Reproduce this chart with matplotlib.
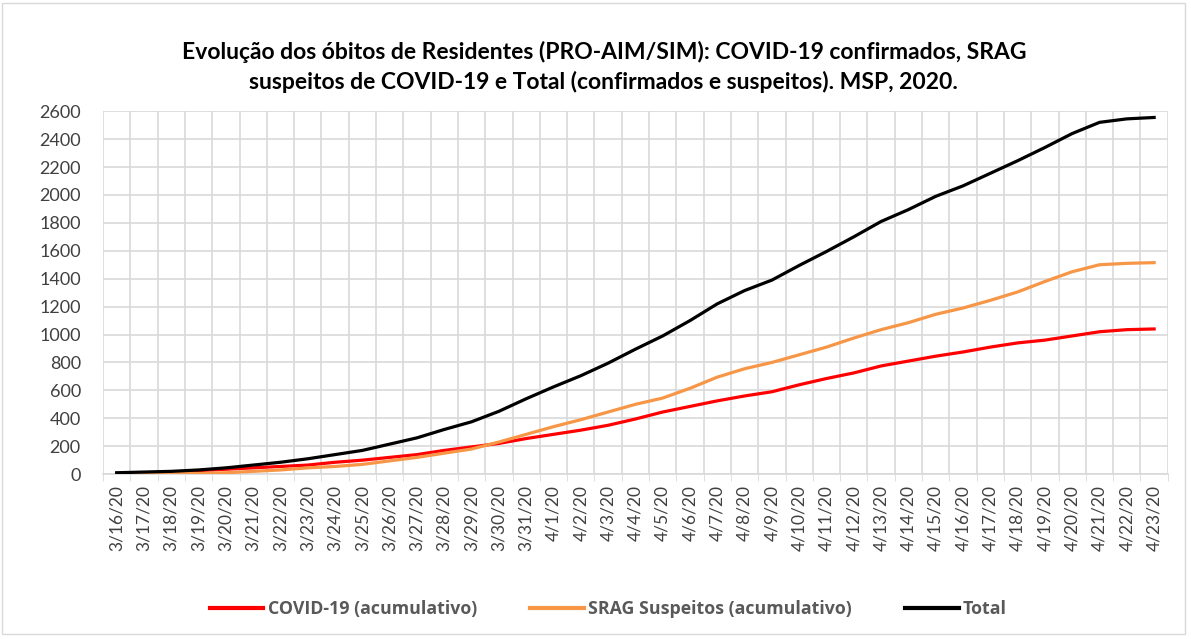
#!/usr/bin/env python3

import matplotlib
matplotlib.use("Agg")
import matplotlib.pyplot as plt
from matplotlib.patches import Rectangle
from matplotlib.font_manager import FontProperties

DATES = [
    "3/16/20", "3/17/20", "3/18/20", "3/19/20", "3/20/20", "3/21/20", "3/22/20",
    "3/23/20", "3/24/20", "3/25/20", "3/26/20", "3/27/20", "3/28/20", "3/29/20",
    "3/30/20", "3/31/20", "4/1/20", "4/2/20", "4/3/20", "4/4/20", "4/5/20",
    "4/6/20", "4/7/20", "4/8/20", "4/9/20", "4/10/20", "4/11/20", "4/12/20",
    "4/13/20", "4/14/20", "4/15/20", "4/16/20", "4/17/20", "4/18/20", "4/19/20",
    "4/20/20", "4/21/20", "4/22/20", "4/23/20",
]

COVID = [
    5, 10, 15, 25, 35, 45, 55, 65, 85, 100, 120, 140, 170, 195, 220, 255,
    285, 315, 350, 395, 445, 485, 525, 560, 590, 640, 685, 725, 775, 810,
    845, 875, 910, 940, 960, 990, 1020, 1035, 1040,
]

SRAG = [
    5, 5, 5, 5, 10, 20, 30, 45, 55, 70, 95, 120, 150, 180, 230, 285,
    340, 390, 445, 500, 545, 615, 695, 755, 800, 855, 910, 975, 1035, 1085,
    1145, 1190, 1245, 1305, 1380, 1450, 1500, 1510, 1515,
]

TOTAL = [
    10, 15, 20, 30, 45, 65, 85, 110, 140, 170, 215, 260, 320, 375, 450, 540,
    625, 705, 795, 895, 990, 1100, 1220, 1315, 1390, 1495, 1595, 1700, 1810, 1895,
    1990, 2065, 2155, 2245, 2340, 2440, 2520, 2545, 2555,
]

Y_TICKS = list(range(0, 2601, 200))

TITLE = ("Evolução dos óbitos de Residentes (PRO-AIM/SIM): COVID-19 confirmados, SRAG\n"
         "suspeitos de COVID-19 e Total (confirmados e suspeitos). MSP, 2020.")

plt.rcParams["font.family"] = ["Lato", "DejaVu Sans"]


def main():
    fig = plt.figure(figsize=(11.91, 6.39), dpi=100)
    ax = fig.add_axes([0.0865, 0.258, 0.894, 0.568])

    x = list(range(len(DATES)))
    ax.plot(x, COVID, color="#FF0000", linewidth=2.3, label="COVID-19 (acumulativo)", zorder=3)
    ax.plot(x, SRAG, color="#F79646", linewidth=2.3, label="SRAG Suspeitos (acumulativo)", zorder=3)
    ax.plot(x, TOTAL, color="#000000", linewidth=2.3, label="Total", zorder=4)

    ax.set_xlim(-0.5, len(DATES) - 0.5)
    ax.set_ylim(0, 2600)
    ax.set_yticks(Y_TICKS)
    ax.set_yticklabels([str(v) for v in Y_TICKS], fontsize=13, color="#404040")

    ax.set_xticks(x)
    ax.set_xticklabels(DATES, rotation=90, fontsize=12.5, color="#404040")
    ax.set_xticks([i - 0.5 for i in range(len(DATES) + 1)], minor=True)
    ax.tick_params(axis="x", which="major", length=0, pad=8)
    ax.tick_params(axis="x", which="minor", length=5, color="#D9D9D9", direction="out")
    ax.tick_params(axis="y", length=0, pad=16)

    ax.grid(True, axis="y", color="#D9D9D9", linewidth=1.2, zorder=0)
    ax.grid(True, axis="x", which="minor", color="#D9D9D9", linewidth=1.2, zorder=0)
    ax.set_axisbelow(True)
    for side in ("top", "right", "left"):
        ax.spines[side].set_visible(False)
    ax.spines["bottom"].set_color("#D9D9D9")
    ax.spines["bottom"].set_linewidth(1.2)

    fig.text(0.507, 0.895, TITLE, ha="center", va="center", fontsize=16.5,
             fontweight="bold", color="#000000", linespacing=1.4)

    legend_font = FontProperties(family=["Open Sans", "DejaVu Sans"], weight="bold", size=12.8)
    leg = fig.legend(loc="center", bbox_to_anchor=(0.511, 0.047), ncol=3, frameon=False,
                     prop=legend_font, handlelength=3.0,
                     columnspacing=3.0, handletextpad=0.25)
    for text in leg.get_texts():
        text.set_color("#595959")
    for line in leg.get_lines():
        line.set_linewidth(3)

    fig.patches.append(Rectangle((0.002, 0.008), 0.993, 0.988, transform=fig.transFigure,
                                 fill=False, edgecolor="#D9D9D9", linewidth=1))

    fig.savefig("out.png", dpi=100)


if __name__ == "__main__":
    main()
